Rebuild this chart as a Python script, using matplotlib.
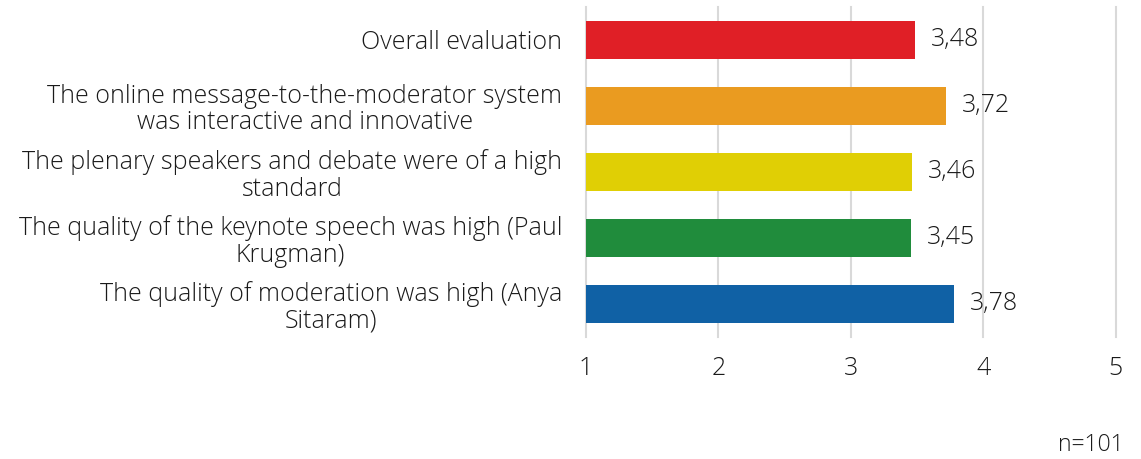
import matplotlib
matplotlib.use("Agg")
import matplotlib.pyplot as plt
from matplotlib import font_manager

categories = [
    "Overall evaluation",
    "The online message-to-the-moderator system\nwas interactive and innovative",
    "The plenary speakers and debate were of a high\nstandard",
    "The quality of the keynote speech was high (Paul\nKrugman)",
    "The quality of moderation was high (Anya\nSitaram)",
]
values = [3.48, 3.72, 3.46, 3.45, 3.78]
colors = ["#E01F26", "#EA9B20", "#E0CF05", "#208C3C", "#1061A5"]
xticks = [1, 2, 3, 4, 5]
note = "n=101"

names = {f.name for f in font_manager.fontManager.ttflist}
fam = "Open Sans" if "Open Sans" in names else "DejaVu Sans"
plt.rcParams["font.family"] = [fam, "DejaVu Sans"]
plt.rcParams["font.weight"] = 300
txtc = "#1a1a1a"
fs = 18

fig = plt.figure(figsize=(11.41, 4.59), dpi=100)
ax = fig.add_axes([0.5136, 0.266, 0.978 - 0.5136, 0.985 - 0.266])

y = list(range(len(categories)))
ax.barh(y, [v - 1 for v in values], left=1, height=0.58, color=colors, zorder=3)
for yi, v in zip(y, values):
    ax.text(v + 0.12, yi, f"{v:.2f}".replace(".", ","), va="center", ha="left",
            fontsize=fs, color=txtc)

ax.set_xlim(1, 5)
ax.set_ylim(len(categories) - 0.5, -0.5)
ax.set_xticks(xticks)
ax.set_xticklabels([str(t) for t in xticks], fontsize=fs, color=txtc)
ax.set_yticks(y)
ax.set_yticklabels(categories, fontsize=fs, color=txtc, ha="right",
                   multialignment="center", linespacing=1.07)
ax.tick_params(axis="both", length=0)
ax.tick_params(axis="x", pad=14)
ax.tick_params(axis="y", pad=17)
ax.grid(axis="x", color="#D9D9D9", linewidth=1.5, zorder=0)
ax.grid(axis="y", visible=False)
for s in ax.spines.values():
    s.set_visible(False)
for gl in ax.get_xgridlines():
    gl.set_clip_on(False)

fig.text(0.985, 0.03, note, ha="right", va="center", fontsize=fs - 1.5, color=txtc)

fig.savefig("out.png", dpi=100)
